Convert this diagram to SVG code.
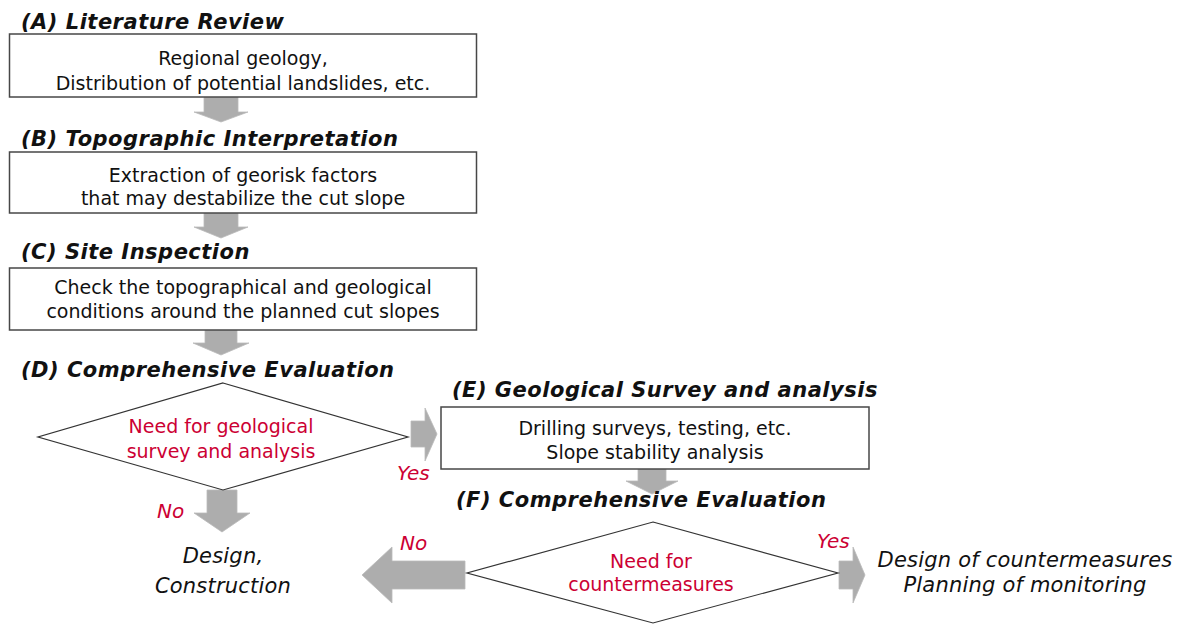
<svg xmlns="http://www.w3.org/2000/svg" width="1183" height="624" viewBox="0 0 1183 624">
<style>
.bg{fill:#ffffff}
.box{fill:#ffffff;stroke:#474747;stroke-width:1.5}
.dia{fill:#ffffff;stroke:#333333;stroke-width:1.2}
.ttl{font-family:"DejaVu Sans","Verdana",sans-serif;font-weight:bold;font-style:italic;font-size:21px;letter-spacing:0.5px;fill:#111111}
.txt{font-family:"DejaVu Sans","Verdana",sans-serif;font-size:19px;fill:#111111;text-anchor:middle}
.red{font-family:"DejaVu Sans","Verdana",sans-serif;font-size:19px;fill:#cc0033;text-anchor:middle}
.lbl{font-family:"DejaVu Sans","Verdana",sans-serif;font-style:italic;font-size:20px;fill:#cc0033}
.out{font-family:"DejaVu Sans","Verdana",sans-serif;font-style:italic;font-size:21px;letter-spacing:0.2px;fill:#111111;text-anchor:middle}
.arr{fill:#adadad;stroke:#bababa;stroke-width:0.8}
</style>
<rect class="bg" x="0" y="0" width="1183" height="624"/>

<g id="connectors">
  <path class="arr" d="M204,97 H238 V112 H248 L221,122 L194,112 H204 Z"/>
  <path class="arr" d="M204,213 H238 V227 H248 L221,238 L194,227 H204 Z"/>
  <path class="arr" d="M205,330 H237 V343 H249 L221,355 L193,343 H205 Z"/>
  <path class="arr" d="M207,490 H237 V513 H250 L222,532 L194,513 H207 Z"/>
  <path class="arr" d="M411,421 H425 V408 L437,434 L425,461 V447 H411 Z"/>
  <path class="arr" d="M638,469 H666 V481 H678 L652,494 L626,481 H638 Z"/>
  <path class="arr" d="M839,561 H853 V547 L865,575 L853,603 V589 H839 Z"/>
  <path class="arr" d="M465,561 H392 V547 L362,575 L392,603 V589 H465 Z"/>
  <text class="lbl" x="397" y="480">Yes</text>
  <text class="lbl" x="157" y="518">No</text>
  <text class="lbl" x="400" y="550">No</text>
  <text class="lbl" x="817" y="548">Yes</text>
</g>

<g id="nodeA">
  <text class="ttl" x="21" y="29">(A) Literature Review</text>
  <rect class="box" x="9.5" y="34" width="467" height="63"/>
  <text class="txt" x="243" y="65">Regional geology,</text>
  <text class="txt" x="243" y="90">Distribution of potential landslides, etc.</text>
</g>

<g id="nodeB">
  <text class="ttl" x="21" y="146">(B) Topographic Interpretation</text>
  <rect class="box" x="9.5" y="152" width="467" height="61"/>
  <text class="txt" x="243" y="182">Extraction of georisk factors</text>
  <text class="txt" x="243" y="205">that may destabilize the cut slope</text>
</g>

<g id="nodeC">
  <text class="ttl" x="21" y="259">(C) Site Inspection</text>
  <rect class="box" x="9.5" y="268" width="467" height="62"/>
  <text class="txt" x="243" y="294">Check the topographical and geological</text>
  <text class="txt" x="243" y="318">conditions around the planned cut slopes</text>
</g>

<g id="nodeD">
  <text class="ttl" x="21" y="377">(D) Comprehensive Evaluation</text>
  <polygon class="dia" points="223,383 408,437 223,490 38,437"/>
  <text class="red" x="221" y="433">Need for geological</text>
  <text class="red" x="221" y="458">survey and analysis</text>
</g>

<g id="nodeDesign">
  <text class="out" x="223" y="563">Design,</text>
  <text class="out" x="223" y="593">Construction</text>
</g>

<g id="nodeE">
  <text class="ttl" x="452" y="397">(E) Geological Survey and analysis</text>
  <rect class="box" x="441" y="407" width="428" height="62"/>
  <text class="txt" x="655" y="435">Drilling surveys, testing, etc.</text>
  <text class="txt" x="655" y="459">Slope stability analysis</text>
</g>

<g id="nodeF">
  <text class="ttl" x="456" y="507">(F) Comprehensive Evaluation</text>
  <polygon class="dia" points="653,522 838,573 653,623 467,573"/>
  <text class="red" x="651" y="568">Need for</text>
  <text class="red" x="651" y="591">countermeasures</text>
</g>

<g id="nodeCounter">
  <text class="out" x="1025" y="567">Design of countermeasures</text>
  <text class="out" x="1025" y="592">Planning of monitoring</text>
</g>
</svg>
